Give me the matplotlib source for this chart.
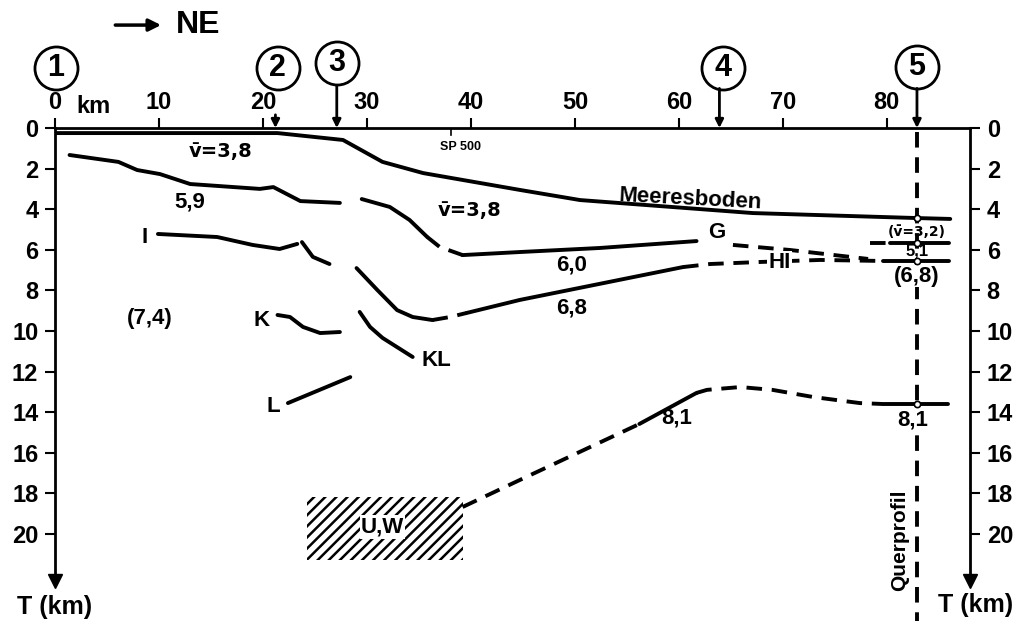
import numpy as np
import matplotlib
matplotlib.use("Agg")
from matplotlib import pyplot as plt
from matplotlib.patches import Rectangle

plt.rcParams['font.family'] = ['Liberation Sans', 'DejaVu Sans']
plt.rcParams['font.weight'] = 'bold'
plt.rcParams['hatch.linewidth'] = 1.8

VBAR = 'v\u0304'
VFONT = ['DejaVu Sans']

# axes
dist_ticks = [0, 10, 20, 30, 40, 50, 60, 70, 80]
depth_ticks = [0, 2, 4, 6, 8, 10, 12, 14, 16, 18, 20]

# stations above the profile
station_names = ['1', '2', '3', '4', '5']
station_km = [0.1, 21.4, 27.1, 64.2, 82.9]
station_z = [-2.95, -2.95, -3.2, -2.95, -3.0]
arrow_km = [21.2, 27.1, 63.9, 82.9]
arrow_top = [-0.65, -2.1, -1.95, -1.95]

querprofil_km = 82.9

# seafloor
sea_km = [0, 21.4, 27.7, 31.5, 35.4, 44.7, 50.5, 67.1, 82.5, 86.1]
sea_z = [0.25, 0.25, 0.59, 1.67, 2.22, 3.05, 3.55, 4.19, 4.43, 4.48]

# 5,9 / G horizon
h59a_km = [1.4, 6.1, 7.9, 10.1, 13.0, 19.7, 21.0, 23.6, 27.4]
h59a_z = [1.33, 1.67, 2.07, 2.27, 2.76, 3.0, 2.91, 3.6, 3.69]
h59b_km = [29.5, 32.2, 34.1, 35.8]
h59b_z = [3.5, 3.89, 4.53, 5.37]
h59c_km = [35.8, 37.0, 39.2]
h59c_z = [5.37, 5.86, 6.26]
g_km = [39.2, 44.7, 52.4, 61.7]
g_z = [6.26, 6.11, 5.91, 5.57]
gd_km = [65.2, 70.7, 78.2]
gd_z = [5.76, 6.01, 6.45]
h51d_km = [78.4, 80.0]
h51d_z = [5.67, 5.67]
h51_km = [80.3, 86.0]
h51_z = [5.67, 5.67]

# I / HI horizon
ia_km = [9.9, 15.6, 19.0, 21.6, 23.3]
ia_z = [5.22, 5.37, 5.76, 5.96, 5.71]
ib_km = [23.75, 24.8, 26.4]
ib_z = [5.62, 6.35, 6.7]
ic_km = [29.0, 31.0, 32.9, 34.4, 36.3]
ic_z = [6.9, 7.98, 8.97, 9.31, 9.46]
id_km = [36.3, 38.0, 39.6]
id_z = [9.46, 9.31, 9.11]
h68_km = [39.6, 44.7, 60.4]
h68_z = [9.11, 8.47, 6.85]
hi_km = [60.4, 63.0, 67.8, 73.6, 79.6]
hi_z = [6.85, 6.7, 6.6, 6.5, 6.55]
his_km = [79.6, 86.0]
his_z = [6.55, 6.55]

# K, KL, L
k_km = [21.4, 22.6, 23.85, 25.5, 27.4]
k_z = [9.21, 9.31, 9.8, 10.1, 10.05]
kl_km = [29.3, 30.3, 31.5, 34.4]
kl_z = [9.06, 9.8, 10.34, 11.28]
l_km = [22.4, 28.4]
l_z = [13.55, 12.27]

# 8,1 horizon
m1_km = [39.2, 44.7, 56.2]
m1_z = [18.67, 17.34, 14.58]
m2_km = [56.2, 61.7]
m2_z = [14.58, 13.05]
m3_km = [61.7, 62.7, 65.9, 69.0, 72.9, 77.4, 79.8]
m3_z = [13.05, 12.9, 12.76, 12.9, 13.25, 13.55, 13.6]
m4_km = [79.8, 85.9]
m4_z = [13.6, 13.6]

# U,W region
uw_km = [24.2, 39.2]
uw_z = [18.2, 21.3]

cross_z = [4.43, 5.67, 6.55, 13.6]

fig = plt.figure(figsize=(10.2, 6.25), dpi=100)
ax = fig.add_axes([55 / 1020, 1 - 580.7 / 625, 915 / 1020, (580.7 - 128) / 625])
ax.set_xlim(0, 88)
ax.set_ylim(22.3, 0)

solid = [(sea_km, sea_z), (h59a_km, h59a_z), (h59b_km, h59b_z), (g_km, g_z),
         (h51_km, h51_z), (ia_km, ia_z), (ib_km, ib_z), (ic_km, ic_z),
         (h68_km, h68_z), (his_km, his_z), (k_km, k_z), (kl_km, kl_z),
         (l_km, l_z), (m2_km, m2_z), (m4_km, m4_z)]
dashed = [(h59c_km, h59c_z), (gd_km, gd_z), (h51d_km, h51d_z), (id_km, id_z),
          (hi_km, hi_z), (m1_km, m1_z), (m3_km, m3_z)]
for xs, zs in solid:
    ax.plot(xs, zs, color='black', lw=2.8, solid_capstyle='round')
for xs, zs in dashed:
    ax.plot(xs, zs, color='black', lw=2.8, dashes=(4, 2.5))

# Querprofil
ax.plot([querprofil_km, querprofil_km], [0.2, 24.3], color='black', lw=2.8,
        dashes=(4, 2.5), clip_on=False)
ax.plot([querprofil_km] * len(cross_z), cross_z, 'o', ms=4.5, mfc='white',
        mec='black', mew=1.2, zorder=5)

ax.add_patch(Rectangle((uw_km[0], uw_z[0]), uw_km[1] - uw_km[0], uw_z[1] - uw_z[0],
                       fill=False, hatch='///', edgecolor='black', linewidth=0))

# axes styling
ax.xaxis.tick_top()
ax.set_xticks(dist_ticks)
ax.set_xticklabels([str(v) for v in dist_ticks])
ax.tick_params(axis='x', direction='out', length=7, width=1.5, pad=3, labelsize=17)
ax.set_yticks(depth_ticks)
ax.set_yticklabels([str(v) for v in depth_ticks])
ax.tick_params(axis='y', left=True, right=True, labelleft=True, labelright=True,
               direction='out', length=7, width=1.5, pad=5, labelsize=17)
ax.spines['bottom'].set_visible(False)
for s in ['top', 'left', 'right']:
    ax.spines[s].set_linewidth(2)
ax.plot([0, 88], [22.3, 22.3], 'kv', ms=10, clip_on=False)
ax.text(2.1, -0.5, 'km', fontsize=17, va='bottom', ha='left')
ax.plot([38.1, 38.1], [0, 0.35], color='black', lw=1.2)

# stations
ax.plot(station_km, station_z, 'o', ms=31, mfc='white', mec='black', mew=2,
        clip_on=False)
for name, x, z in zip(station_names, station_km, station_z):
    ax.text(x, z, name, fontsize=22, ha='center', va='center', clip_on=False)
for x, top in zip(arrow_km, arrow_top):
    ax.annotate('', xy=(x, 0), xytext=(x, top), annotation_clip=False,
                arrowprops=dict(arrowstyle='-|>', color='black', lw=2,
                                mutation_scale=12, shrinkA=0, shrinkB=0))

ax.annotate('', xy=(10.2, -5.07), xytext=(5.8, -5.07), annotation_clip=False,
            arrowprops=dict(arrowstyle='-|>', color='black', lw=2.5,
                            mutation_scale=18, shrinkA=0, shrinkB=0))
ax.text(11.6, -5.07, 'NE', fontsize=23, ha='left', va='center')

ax.text(0, 23.6, 'T (km)', fontsize=18, ha='center', va='center', clip_on=False)
ax.text(88.5, 23.5, 'T (km)', fontsize=18, ha='center', va='center', clip_on=False)

# labels
fs = 16
ax.text(15.9, 1.18, VBAR + '=3,8', fontsize=14, ha='center', va='center', family=VFONT)
ax.text(39.0, 0.94, 'SP 500', fontsize=9, ha='center', va='center')
ax.text(13.0, 3.65, '5,9', fontsize=fs, ha='center', va='center')
ax.text(39.9, 4.04, VBAR + '=3,8', fontsize=14, ha='center', va='center', family=VFONT)
ax.text(61.1, 3.5, 'Meeresboden', fontsize=fs, ha='center', va='center', rotation=-3)
ax.text(8.65, 5.37, 'I', fontsize=fs, ha='center', va='center')
ax.text(63.65, 5.17, 'G', fontsize=fs, ha='center', va='center')
ax.text(49.7, 6.75, '6,0', fontsize=fs, ha='center', va='center')
ax.text(69.7, 6.62, 'HI', fontsize=fs, ha='center', va='center',
        bbox=dict(facecolor='white', edgecolor='none', pad=1))
ax.text(82.9, 5.1, '(' + VBAR + '=3,2)', fontsize=10, ha='center', va='center',
        family=VFONT)
ax.text(82.9, 6.05, '5,1', fontsize=12, ha='center', va='center')
ax.text(82.9, 7.3, '(6,8)', fontsize=fs, ha='center', va='center',
        bbox=dict(facecolor='white', edgecolor='none', pad=0.5))
ax.text(49.7, 8.87, '6,8', fontsize=fs, ha='center', va='center')
ax.text(9.1, 9.36, '(7,4)', fontsize=fs, ha='center', va='center')
ax.text(19.9, 9.46, 'K', fontsize=fs, ha='center', va='center')
ax.text(36.7, 11.43, 'KL', fontsize=fs, ha='center', va='center')
ax.text(21.0, 13.74, 'L', fontsize=fs, ha='center', va='center')
ax.text(59.8, 14.3, '8,1', fontsize=fs, ha='center', va='center')
ax.text(82.5, 14.4, '8,1', fontsize=fs, ha='center', va='center',
        bbox=dict(facecolor='white', edgecolor='none', pad=0.5))
ax.text(31.5, 19.65, 'U,W', fontsize=fs, ha='center', va='center',
        bbox=dict(facecolor='white', edgecolor='none', pad=1))
ax.text(81.25, 20.3, 'Querprofil', fontsize=15, ha='center', va='center',
        rotation=90, clip_on=False)

fig.savefig('out.png', dpi=100)
